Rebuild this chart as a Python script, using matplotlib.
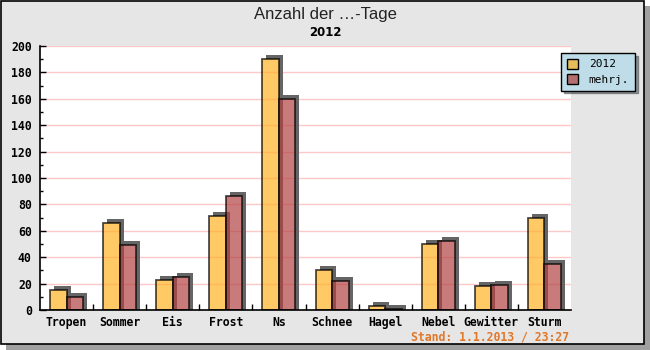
import numpy as np
import matplotlib
matplotlib.use("Agg")
import matplotlib.pyplot as plt
from matplotlib.patches import Rectangle, PathPatch
from matplotlib.path import Path

# data
categories = ["Tropen", "Sommer", "Eis", "Frost", "Ns", "Schnee", "Hagel", "Nebel", "Gewitter", "Sturm"]
vals_2012 = [15, 66, 23, 71, 190, 30, 3, 50, 18, 70]
vals_mehrj = [10, 49, 25, 86, 160, 22, 1, 52, 19, 35]
series_names = ["2012", "mehrj."]
yticks = [0, 20, 40, 60, 80, 100, 120, 140, 160, 180, 200]

mono = "DejaVu Sans Mono"

fig = plt.figure(figsize=(6.5, 3.5), dpi=100, facecolor="white")

# outer frame with drop shadow
fig.patches.append(Rectangle((6 / 650, 0), 644 / 650, 344 / 350, transform=fig.transFigure,
                             facecolor="#a0a0a0", edgecolor="none", zorder=-3))
fig.patches.append(Rectangle((1 / 650, 6 / 350), 643 / 650, 343 / 350, transform=fig.transFigure,
                             facecolor="#e6e6e6", edgecolor="black", linewidth=1.2, zorder=-2))

ax = fig.add_axes([40 / 650, 40 / 350, 531 / 650, 264 / 350])
ax.set_zorder(2)
ax.set_facecolor("white")

x = np.arange(len(categories))
w = 0.31
ax.set_xlim(-0.5, len(categories) - 0.5)
ax.set_ylim(0, 200)

b1 = ax.bar(x - w / 2, vals_2012, w, color="#ffb224", alpha=0.7, edgecolor="black",
            linewidth=1.3, zorder=3, label=series_names[0])
b2 = ax.bar(x + w / 2, vals_mehrj, w, color="#b24242", alpha=0.7, edgecolor="black",
            linewidth=1.3, zorder=3, label=series_names[1])
for b in list(b1) + list(b2):
    b.set_edgecolor((0, 0, 0, 1))

# L-shaped drop shadow (top + right) behind every bar, offset in pixels
dx, dy = 4, 4
inv = ax.transData.inverted()
for b in list(b1) + list(b2):
    (x0, y0), (x1, y1) = ax.transData.transform([(b.get_x(), 0), (b.get_x() + b.get_width(), b.get_height())])
    outer = [(x0 + dx, y0), (x1 + dx, y0), (x1 + dx, y1 + dy), (x0 + dx, y1 + dy), (x0 + dx, y0)]
    hole = [(x0 + dx, y0), (x0 + dx, y1), (x1, y1), (x1, y0), (x0 + dx, y0)]
    verts = inv.transform(outer + hole)
    codes = [Path.MOVETO] + [Path.LINETO] * 3 + [Path.CLOSEPOLY]
    ax.add_patch(PathPatch(Path(verts, codes * 2), facecolor="#656565", edgecolor="none",
                           zorder=2, clip_on=False))

ax.set_yticks(yticks)
ax.set_yticks(np.arange(10, 200, 20), minor=True)
ax.set_xticks(x)
ax.set_xticklabels(categories)
ax.set_xticks(x[:-1] + 0.5, minor=True)

for yv in yticks[1:]:
    ax.axhline(yv, color="#ffc8c8", linewidth=1.0, zorder=1)

ax.tick_params(axis="y", which="major", direction="in", length=4, width=1, pad=6)
ax.tick_params(axis="y", which="minor", direction="in", length=2.5, width=1)
ax.tick_params(axis="x", which="major", length=0, pad=4)
ax.tick_params(axis="x", which="minor", direction="in", length=4, width=1)
for lab in ax.get_xticklabels() + ax.get_yticklabels():
    lab.set_fontfamily(mono)
    lab.set_fontweight("bold")
    lab.set_fontsize(8.3)

ax.spines["top"].set_visible(False)
ax.spines["right"].set_visible(False)
ax.spines["left"].set_linewidth(1.2)
ax.spines["bottom"].set_linewidth(1.2)
ax.spines["left"].set_zorder(4)
ax.spines["bottom"].set_zorder(4)

fig.text(0.5, 1 - 14 / 350, "Anzahl der \u2026-Tage", ha="center", va="center",
         fontsize=12, family="Liberation Sans", color="#222222")
fig.text(0.5, 1 - 33 / 350, "2012", ha="center", va="center",
         fontsize=8.5, family="DejaVu Sans", fontweight="bold")
fig.text(569 / 650, 1 - 337 / 350, "Stand: 1.1.2013 / 23:27", ha="right", va="center",
         fontsize=8.3, family=mono, fontweight="bold", color="#e0782a")

leg = fig.legend(handles=[Rectangle((0, 0), 1, 1, facecolor="#e6be5a", edgecolor="black"),
                          Rectangle((0, 0), 1, 1, facecolor="#b47070", edgecolor="black")],
                 labels=series_names, loc="upper left", bbox_to_anchor=(561 / 650, 1 - 53 / 350),
                 prop={"family": mono, "size": 8}, frameon=True, fancybox=False, shadow=True,
                 handlelength=1.0, handleheight=1.0, handletextpad=1.0, borderpad=0.5,
                 labelspacing=0.45, borderaxespad=0)
leg.set_zorder(5)
leg.get_frame().set_facecolor("#bedde8")
leg.get_frame().set_edgecolor("black")
leg.get_frame().set_alpha(1)

fig.savefig("out.png", dpi=100, facecolor=fig.get_facecolor())
